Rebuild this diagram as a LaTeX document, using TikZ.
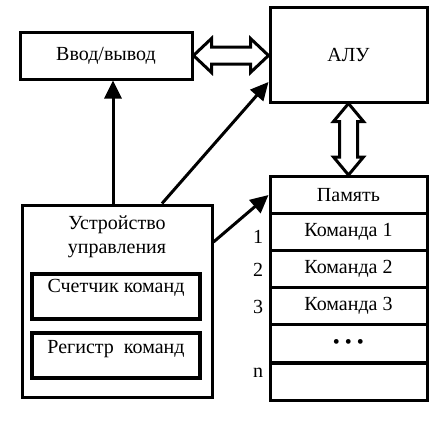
\documentclass[tikz,border=0pt]{standalone}
\usepackage{fontspec}
\setmainfont{Liberation Serif}
\usetikzlibrary{arrows.meta,calc}
\begin{document}
\begin{tikzpicture}[x=1pt,y=-1pt,
  box/.style={draw,line width=3pt,rectangle,inner sep=0pt},
  inbox/.style={draw,line width=4pt,rectangle,inner sep=0pt,minimum width=168pt,minimum height=45pt},
  row/.style={draw,line width=3pt,rectangle,inner sep=0pt,minimum width=157pt,minimum height=37pt,font=\fontsize{20}{24}\selectfont},
  txt/.style={inner sep=0pt,font=\fontsize{20}{24}\selectfont},
  arr/.style={line width=3pt,-{Triangle[length=18pt,width=17pt]}},
  dbl/.style={draw,line width=3pt,fill=white,line join=miter}
]
\useasboundingbox (0,0) rectangle (448,421);
% boxes
\node[box,minimum width=172pt,minimum height=47pt,font=\fontsize{20}{24}\selectfont] (io) at (106,55.5) {Ввод/вывод};
\node[box,minimum width=157pt,minimum height=95pt,font=\fontsize{20}{24}\selectfont] (alu) at (348.5,54.5) {АЛУ};
\node[box,minimum width=190pt,minimum height=192pt] (cu) at (117,301) {};
\node[txt,align=center,font=\fontsize{20}{24}\selectfont] (cut) at (117,237) {Устройство\\управления};
\node[inbox] (cnt) at (116,296.5) {};
\node[txt] (cntt) at (116,288) {Счетчик команд};
\node[inbox] (reg) at (116,355.5) {};
\node[txt] (regt) at (116,349) {Регистр\ \ команд};
% memory
\node[row] (m0) at (348.5,195) {Память};
\node[row] (m1) at (348.5,232) {Команда 1};
\node[row] (m2) at (348.5,269) {Команда 2};
\node[row] (m3) at (348.5,306) {Команда 3};
\node[row,minimum height=38pt] (m4) at (348.5,343.5) {• • •};
\node[row] (m5) at (348.5,381.5) {};
\node[txt] (n1) at (258,237) {1};
\node[txt] (n2) at (258,270) {2};
\node[txt] (n3) at (258,307) {3};
\node[txt] (nn) at (258,373) {n};
% arrows
\draw[arr] ($(cu.north)+(-4,0)$) -- ($(io.south)+(7,0)$);
\draw[arr] ($(cu.north)+(45,0)$) -- ($(alu.west)+(0,27.5)$);
\draw[arr] ($(cu.east)+(0,-59)$) -- (m0.west);
% double arrows
\coordinate (L) at (io.east);
\coordinate (R) at (io.east -| alu.west);
\path[dbl] (L) -- ($(L)+(18,-17)$) -- ($(L)+(18,-8.5)$) -- ($(R)+(-18,-8.5)$) -- ($(R)+(-18,-17)$) -- (R)
  -- ($(R)+(-18,17)$) -- ($(R)+(-18,8.5)$) -- ($(L)+(18,8.5)$) -- ($(L)+(18,17)$) -- cycle;
\coordinate (T) at (alu.south);
\coordinate (B) at (m0.north);
\path[dbl] (T) -- ($(T)+(-15,18)$) -- ($(T)+(-9,18)$) -- ($(B)+(-9,-18)$) -- ($(B)+(-15,-18)$) -- (B)
  -- ($(B)+(15,-18)$) -- ($(B)+(9,-18)$) -- ($(T)+(9,18)$) -- ($(T)+(15,18)$) -- cycle;
\end{tikzpicture}
\end{document}
